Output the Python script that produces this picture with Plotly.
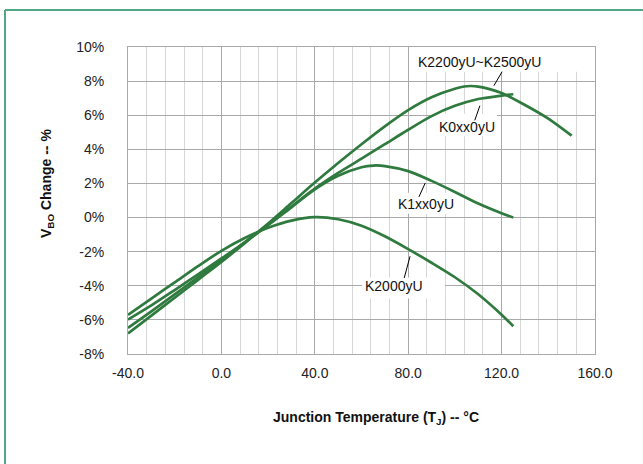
import plotly.graph_objects as go

# ---- data ----
temp_a = [-40, -30, -20, -10, 0, 10, 20, 30, 40, 50, 60, 70, 80, 90, 100, 105, 110, 120, 130, 140, 150]
k2200 = [-6.8, -5.75, -4.7, -3.65, -2.6, -1.5, -0.35, 0.85, 2.05, 3.2, 4.3, 5.35, 6.3, 7.05, 7.55, 7.7, 7.68, 7.3, 6.6, 5.8, 4.8]

temp_b = [-40, -30, -20, -10, 0, 10, 20, 30, 40, 50, 60, 70, 80, 90, 100, 110, 120, 125]
k0xx = [-6.47, -5.5, -4.5, -3.5, -2.5, -1.45, -0.4, 0.65, 1.7, 2.62, 3.45, 4.3, 5.15, 5.95, 6.55, 6.95, 7.15, 7.23]

temp_c = [-40, -30, -20, -10, 0, 10, 20, 30, 40, 50, 60, 65, 70, 80, 90, 100, 110, 120, 125]
k1xx = [-5.98, -5.15, -4.25, -3.33, -2.4, -1.45, -0.45, 0.6, 1.65, 2.45, 2.95, 3.05, 3.02, 2.72, 2.15, 1.5, 0.82, 0.25, 0.0]

temp_d = [-40, -30, -20, -10, 0, 10, 20, 30, 40, 50, 60, 70, 80, 90, 100, 110, 120, 125]
k2000 = [-5.7, -4.75, -3.8, -2.85, -1.95, -1.2, -0.6, -0.18, 0.02, -0.1, -0.48, -1.1, -1.85, -2.65, -3.5, -4.5, -5.7, -6.37]

x_ticks = [-40, 0, 40, 80, 120, 160]
y_ticks = [-8, -6, -4, -2, 0, 2, 4, 6, 8, 10]

labels = ["K2200yU~K2500yU", "K0xx0yU", "K1xx0yU", "K2000yU"]
label_x = [110.7, 105.1, 87.5, 73.9]
label_y = [9.11, 5.29, 0.82, -4.03]
# leader lines (start -> end), data units
lead_x0 = [120.2, 110.7, 87.3, 80.8]
lead_y0 = [8.55, 6.56, 2.03, -2.27]
lead_x1 = [116.7, 108.5, 84.6, 78.3]
lead_y1 = [7.73, 5.70, 1.21, -3.54]
# white boxes behind labels
box_x0 = [81.6, 89.3, 73.1, 60.2]
box_x1 = [157.9, 118.0, 102.2, 95.8]
box_y0 = [8.55, 4.76, 0.23, -4.75]
box_y1 = [10.0, 6.09, 1.46, -3.52]

LINE = "#2f7a3e"
fig = go.Figure()
for xs, ys, nm in [(temp_a, k2200, labels[0]), (temp_b, k0xx, labels[1]),
                   (temp_c, k1xx, labels[2]), (temp_d, k2000, labels[3])]:
    fig.add_trace(go.Scatter(x=xs, y=ys, mode="lines", name=nm,
                             line=dict(color=LINE, width=2.7, shape="spline", smoothing=0.8),
                             showlegend=False, hoverinfo="skip"))

shapes = []
for i in range(len(labels)):
    shapes.append(dict(type="rect", xref="x", yref="y", x0=box_x0[i], x1=box_x1[i],
                       y0=box_y0[i], y1=box_y1[i], fillcolor="white", line=dict(width=0),
                       layer="between"))
    shapes.append(dict(type="line", xref="x", yref="y", x0=lead_x0[i], y0=lead_y0[i],
                       x1=lead_x1[i], y1=lead_y1[i], line=dict(color="black", width=1)))

# green frame (top and left edges)
FR = "#52a886"
PL, PR, PT, PB = 128, 595, 47, 354
def px2paper_x(px):
    return (px - PL) / (PR - PL)
def py2paper_y(py):
    return (PB - py) / (PB - PT)
shapes.append(dict(type="line", xref="paper", yref="paper", x0=px2paper_x(5), y0=py2paper_y(10),
                   x1=px2paper_x(660), y1=py2paper_y(10), line=dict(color=FR, width=2)))
shapes.append(dict(type="line", xref="paper", yref="paper", x0=px2paper_x(5), y0=py2paper_y(10),
                   x1=px2paper_x(5), y1=py2paper_y(480), line=dict(color=FR, width=2)))

annotations = []
for i in range(len(labels)):
    annotations.append(dict(x=label_x[i], y=label_y[i], xref="x", yref="y", text=labels[i],
                            showarrow=False, xanchor="center", yanchor="middle",
                            font=dict(family="Liberation Sans", size=14, color="#111")))
annotations.append(dict(x=px2paper_x(376), y=py2paper_y(418), xref="paper", yref="paper",
                        text="<b>Junction Temperature (T<sub>J</sub>) -- °C</b>", showarrow=False,
                        xanchor="center", yanchor="middle",
                        font=dict(family="Liberation Sans", size=14, color="#111")))
annotations.append(dict(x=px2paper_x(47), y=py2paper_y(184), xref="paper", yref="paper",
                        text="<b>V<sub>BO</sub> Change -- %</b>", showarrow=False, textangle=-90,
                        xanchor="center", yanchor="middle",
                        font=dict(family="Liberation Sans", size=14, color="#111")))

fig.update_layout(
    width=643, height=464,
    margin=dict(l=PL, r=643 - PR, t=PT, b=464 - PB),
    paper_bgcolor="white", plot_bgcolor="white",
    shapes=shapes, annotations=annotations,
    font=dict(family="Liberation Sans", size=14, color="#222"),
)
fig.update_xaxes(range=[-40, 160], tickvals=x_ticks, ticktext=[f"{v:.1f}" for v in x_ticks],
                 showgrid=True, gridcolor="#a9a9a9", gridwidth=1,
                 minor=dict(dtick=8, tick0=-40, showgrid=True, gridcolor="#d6d6d6", gridwidth=1),
                 showline=True, linecolor="#a9a9a9", linewidth=1, mirror=True,
                 zeroline=False, ticks="", ticklabelstandoff=6,
                 tickfont=dict(family="Liberation Sans", size=14, color="#222"))
fig.update_yaxes(range=[-8, 10], tickvals=y_ticks, ticktext=[f"{v}%" for v in y_ticks],
                 showgrid=True, gridcolor="#a9a9a9", gridwidth=1,
                 showline=True, linecolor="#a9a9a9", linewidth=1, mirror=True,
                 zeroline=False, ticks="", ticklabelstandoff=20,
                 tickfont=dict(family="Liberation Sans", size=14, color="#222"))

fig.write_html("out.html", config={"displayModeBar": False},
               post_script="document.body.style.margin='0';")
